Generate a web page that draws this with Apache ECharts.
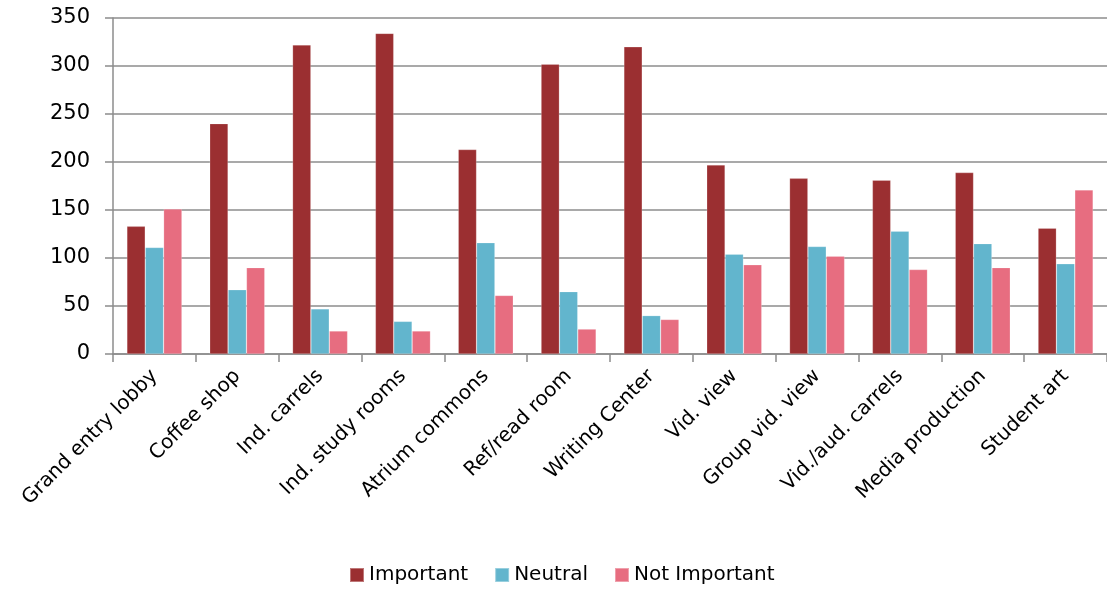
<!DOCTYPE html>
<html>
<head>
<meta charset="utf-8">
<style>
  html, body { margin: 0; padding: 0; background: #ffffff; }
  #chart { width: 1107px; height: 590px; }
</style>
<script src="https://cdn.jsdelivr.net/npm/echarts@6/dist/echarts.min.js"></script>
</head>
<body>
<div id="chart"></div>
<script>
// Library spaces rated by respondents
const categories = [
  'Grand entry lobby', 'Coffee shop', 'Ind. carrels', 'Ind. study rooms',
  'Atrium commons', 'Ref/read room', 'Writing Center', 'Vid. view',
  'Group vid. view', 'Vid./aud. carrels', 'Media production', 'Student art'
];
const important    = [133, 240, 322, 334, 213, 302, 320, 197, 183, 181, 189, 131];
const neutral      = [111, 67, 47, 34, 116, 65, 40, 104, 112, 128, 115, 94];
const notImportant = [151, 90, 24, 24, 61, 26, 36, 93, 102, 88, 90, 171];
const seriesNames  = ['Important', 'Neutral', 'Not Important'];
const yTicks = { min: 0, max: 350, interval: 50 };

const FONT = '"DejaVu Sans", "Open Sans", sans-serif';
const gridColor = '#8c8c8c';

const chart = echarts.init(document.getElementById('chart'), null, { renderer: 'canvas' });

function barSeries(name, data, color) {
  return {
    name: name,
    type: 'bar',
    data: data,
    barGap: '0%',
    barCategoryGap: '33.5%',
    itemStyle: { color: color, borderColor: 'rgba(255,255,255,0.35)', borderWidth: 0.6 }
  };
}

chart.setOption({
  animation: false,
  textStyle: { fontFamily: FONT },
  grid: { left: 113, top: 18, width: 998, height: 336, containLabel: false },
  legend: {
    left: 349,
    top: 565,
    padding: 0,
    itemWidth: 14,
    itemHeight: 14,
    itemGap: 26,
    icon: 'rect',
    textStyle: { fontFamily: FONT, fontSize: 20, color: '#000' },
    data: seriesNames
  },
  xAxis: {
    type: 'category',
    data: categories,
    axisLine: { lineStyle: { color: gridColor, width: 1.5 } },
    axisTick: { show: true, length: 8, alignWithLabel: false, lineStyle: { color: gridColor, width: 1.5 } },
    axisLabel: {
      rotate: 45,
      interval: 0,
      margin: 19,
      fontFamily: FONT,
      fontSize: 20,
      color: '#000'
    }
  },
  yAxis: {
    type: 'value',
    min: yTicks.min,
    max: yTicks.max,
    interval: yTicks.interval,
    axisLine: { show: true, lineStyle: { color: gridColor, width: 1.5 } },
    axisTick: { show: true, length: 8, lineStyle: { color: gridColor, width: 1.5 } },
    splitLine: { lineStyle: { color: gridColor, width: 1.5 } },
    axisLabel: { margin: 23, fontFamily: FONT, fontSize: 21, color: '#000' }
  },
  series: [
    barSeries(seriesNames[0], important, '#9b2f31'),
    barSeries(seriesNames[1], neutral, '#62b5cd'),
    barSeries(seriesNames[2], notImportant, '#e76d80')
  ]
});
</script>
</body>
</html>
